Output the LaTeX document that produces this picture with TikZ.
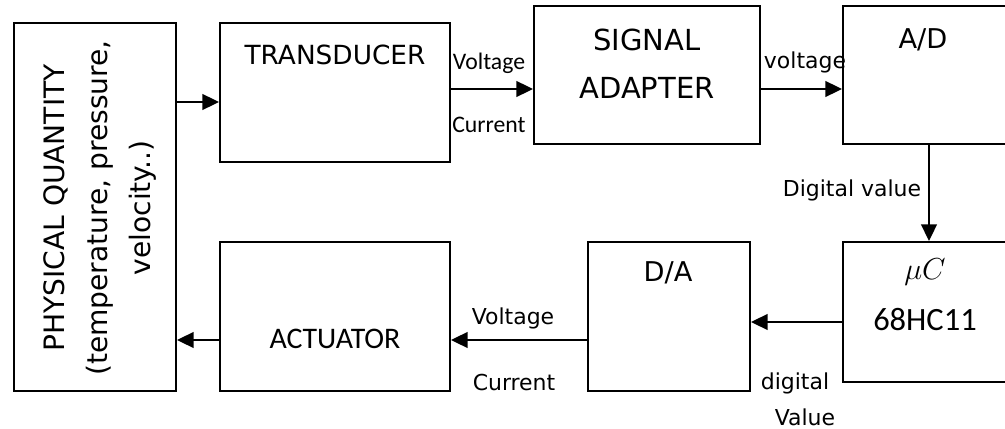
\documentclass[tikz,border=0pt]{standalone}
\usepackage{fontspec}
\setmainfont{DejaVu Sans}
\newfontfamily\calib{Carlito}
\usetikzlibrary{arrows.meta}

\tikzset{
    block/.style={draw, line width=1.2pt, inner sep=0pt},
    arr/.style={line width=1.2pt, -{Triangle[length=9.5pt,width=9pt]}},
    small/.style={font=\fontsize{12.5}{14}\selectfont},
    title/.style={font=\fontsize{15.5}{18}\selectfont},
}

\begin{document}
\begin{tikzpicture}[x=0.02cm, y=-0.02cm]
            \useasboundingbox (0,0) rectangle (1005,429);

            % blocks
            \node[block, minimum width=3.24cm, minimum height=7.36cm] (PQ) at (95,207) {};
            \node[block, minimum width=4.6cm, minimum height=2.78cm] (TR) at (335,92.5) {};
            \node[block, minimum width=4.52cm, minimum height=2.76cm] (SA) at (647,75) {};
            \node[block, minimum width=3.44cm, minimum height=2.76cm] (AD) at (929,75) {};
            \node[block, minimum width=3.44cm, minimum height=2.8cm] (MC) at (929,312) {};
            \node[block, minimum width=3.24cm, minimum height=2.98cm] (DA) at (669,316.5) {};
            \node[block, minimum width=4.6cm, minimum height=2.98cm] (AC) at (335,316.5) {};

            % texts in the blocks
            \node[rotate=90, align=center, font=\fontsize{16}{24.5}\selectfont] (pqtext) at (100,208)
                {PHYSICAL QUANTITY\\(temperature, pressure,\\velocity..)};
            \node[font=\fontsize{15}{17}\selectfont] (trtext) at (335,55) {TRANSDUCER};
            \node[font=\fontsize{16.5}{20}\selectfont] (satext1) at (647,40) {SIGNAL};
            \node[font=\fontsize{16.5}{20}\selectfont] (satext2) at (647,88) {ADAPTER};
            \node[title] (adtext) at (923,40) {A/D};
            \node[font=\fontsize{18}{20}\selectfont] (mctext1) at (925,272) {$\mu C$};
            \node[font=\calib\fontsize{18.5}{21}\selectfont] (mctext2) at (925,320) {68HC11};
            \node[title] (datext) at (668,273) {D/A};
            \node[font=\calib\fontsize{17}{19}\selectfont] (actext) at (335,339) {ACTUATOR};

            % connectors
            \draw[arr] (PQ.east |- 0,102) -- (TR.west |- 0,102);
            \draw[arr] (TR.east |- 0,89) -- (SA.west |- 0,89);
            \draw[arr] (SA.east |- 0,89) -- (AD.west |- 0,89);
            \draw[arr] (AD.south) -- (MC.north);
            \draw[arr] (MC.west |- 0,322) -- (DA.east |- 0,322);
            \draw[arr] (DA.west |- 0,340) -- (AC.east |- 0,340);
            \draw[arr] (AC.west |- 0,340) -- (PQ.east |- 0,340);

            % connector labels
            \node[font=\calib\fontsize{13.5}{15}\selectfont] (lv1) at (489,63) {Voltage};
            \node[font=\calib\fontsize{13.5}{15}\selectfont] (lc1) at (489,125) {Current};
            \node[small] (lv2) at (805,62) {voltage};
            \node[small] (ldv) at (852,190) {Digital value};
            \node[small] (lv3) at (513,318) {Voltage};
            \node[small] (lc3) at (514,383) {Current};
            \node[small] (ldg1) at (795,383) {digital};
            \node[small] (ldg2) at (805,417) {Value};
        \end{tikzpicture}
\end{document}
